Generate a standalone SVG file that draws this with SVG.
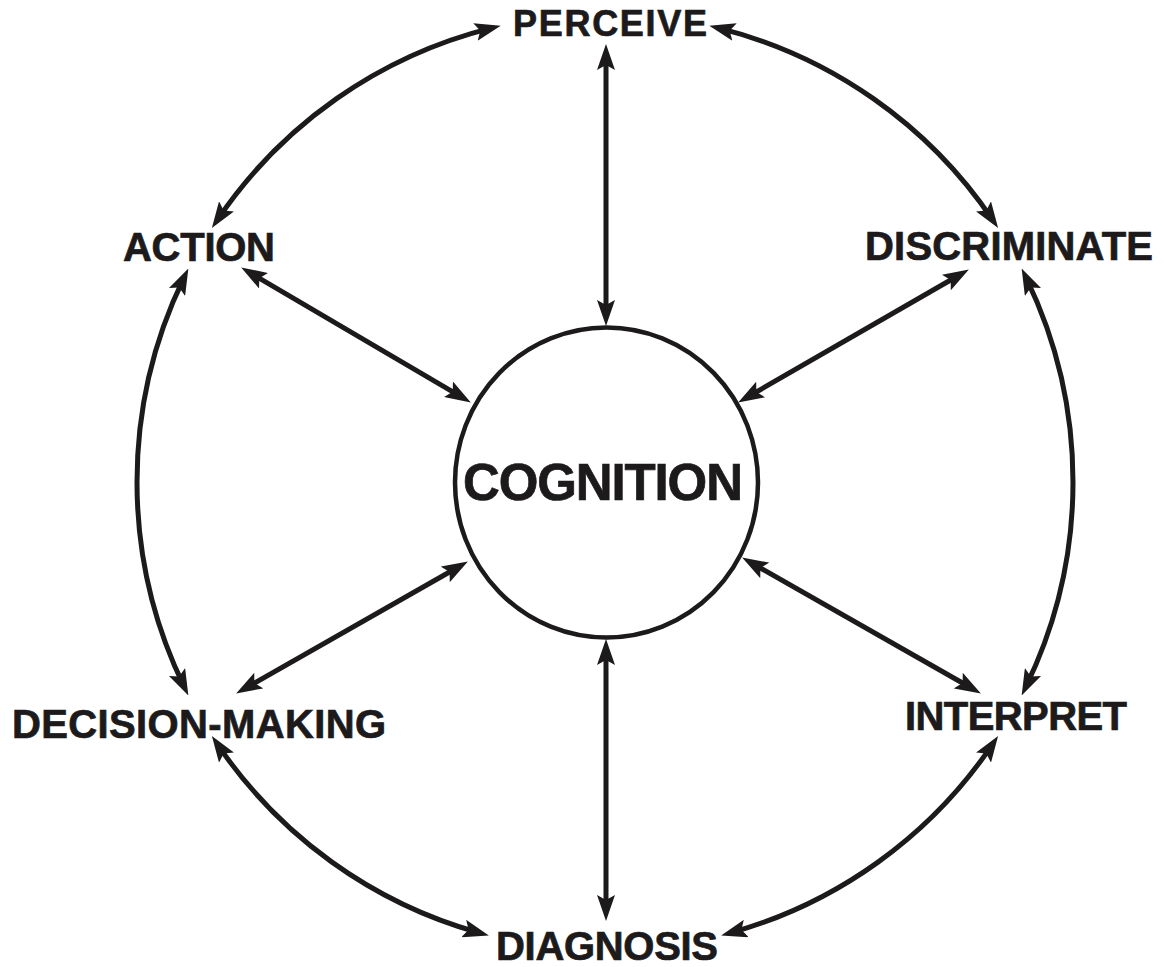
<svg xmlns="http://www.w3.org/2000/svg" width="1166" height="967" viewBox="0 0 1166 967">
<style>
.lbl{font-family:"Liberation Sans",Arial,sans-serif;font-weight:bold;font-size:40px;fill:#1c1a1b;stroke:#1c1a1b;stroke-width:0.7}
.con{fill:none;stroke:#1c1a1b;stroke-width:5;marker-start:url(#ah);marker-end:url(#ah)}
</style>
<defs>
<marker id="ah" markerUnits="userSpaceOnUse" viewBox="0 0 26 18" markerWidth="26" markerHeight="18" refX="16" refY="9" orient="auto-start-reverse">
<path d="M0,0 L26,9 L0,18 L5,9 Z" fill="#1c1a1b"/>
</marker>
</defs>
<rect width="1166" height="967" fill="#ffffff"/>
<g id="connectors">
<path class="con" d="M606,54 L606,316"/>
<path class="con" d="M606,649 L606,911"/>
<path class="con" d="M249.8,272.6 L462.2,397.4"/>
<path class="con" d="M960.2,274.5 L746.8,397.5"/>
<path class="con" d="M244.8,688.5 L459.2,566.5"/>
<path class="con" d="M750.8,562.5 L972.2,688.5"/>
<path class="con" d="M217.5,219.6 A468,468 0 0 1 491,28.1"/>
<path class="con" d="M719,28.1 A468,468 0 0 1 992.5,219.6"/>
<path class="con" d="M1026,277.6 A468,468 0 0 1 1026,686.4"/>
<path class="con" d="M992.5,744.4 A468,468 0 0 1 730.8,932.8"/>
<path class="con" d="M479.2,932.8 A468,468 0 0 1 217.5,744.4"/>
<path class="con" d="M184,686.4 A468,468 0 0 1 184,277.6"/>
</g>
<g id="cognition">
<ellipse cx="606.5" cy="482.5" rx="151.5" ry="155" fill="none" stroke="#1c1a1b" stroke-width="4.5"/>
<text class="lbl" x="463" y="500" style="font-size:51px" textLength="280">COGNITION</text>
</g>
<g id="perceive"><text class="lbl" x="513" y="36" style="font-size:36px" textLength="194">PERCEIVE</text></g>
<g id="action"><text class="lbl" x="123" y="261" textLength="152">ACTION</text></g>
<g id="discriminate"><text class="lbl" x="865" y="260" textLength="288">DISCRIMINATE</text></g>
<g id="decision-making"><text class="lbl" x="12" y="738" textLength="374">DECISION-MAKING</text></g>
<g id="interpret"><text class="lbl" x="905" y="730" textLength="222">INTERPRET</text></g>
<g id="diagnosis"><text class="lbl" x="496" y="960" textLength="222">DIAGNOSIS</text></g>
</svg>
